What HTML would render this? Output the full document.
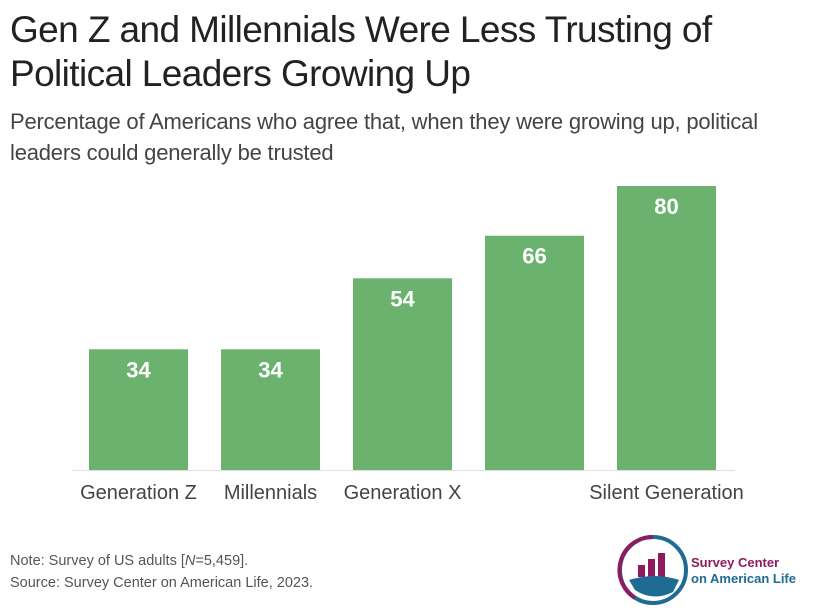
<!DOCTYPE html>
<html><head><meta charset="utf-8"><style>
body{margin:0;width:813px;height:613px;background:#fff;font-family:"Liberation Sans",sans-serif;overflow:hidden;position:relative}
.t{position:absolute;left:10px;top:8px;font-size:37px;line-height:44px;color:#222;letter-spacing:-0.6px}
.s{position:absolute;left:10px;top:106px;font-size:22px;line-height:31px;color:#444;letter-spacing:-0.2px}
.n{position:absolute;left:10px;top:550px;font-size:14.5px;line-height:22px;color:#555}
</style></head><body>
<div class="t">Gen Z and Millennials Were Less Trusting of<br>Political Leaders Growing Up</div>
<div class="s">Percentage of Americans who agree that, when they were growing up, political<br>leaders could generally be trusted</div>
<svg id="c" width="813" height="613" style="position:absolute;left:0;top:0"></svg>
<div class="n">Note: Survey of US adults [<i>N</i>=5,459].<br>Source: Survey Center on American Life, 2023.</div>
<svg width="200" height="80" style="position:absolute;left:615px;top:532px">
<circle cx="38" cy="38" r="33" fill="none" stroke="#1e6b94" stroke-width="4"/>
<path d="M38 5 A33 33 0 0 0 20 66" fill="none" stroke="#8e1b5e" stroke-width="4"/>
<rect x="23" y="33" width="7" height="12" fill="#8e1b5e"/><rect x="33" y="27" width="7" height="18" fill="#8e1b5e"/><rect x="43" y="21" width="7" height="24" fill="#8e1b5e"/>
<path d="M14 48 Q40 40 64 48 L58 60 Q38 70 20 58 Z" fill="#1e6b94"/>
<text x="76" y="35" font-size="13" font-weight="bold" fill="#8e1b5e">Survey Center</text>
<text x="76" y="51" font-size="13" font-weight="bold" fill="#1e6b94">on American Life</text>
</svg>
<script>
const categories=["Generation Z","Millennials","Generation X","","Silent Generation"];
const values=[34,34,54,66,80];
const svg=document.getElementById('c');const ns="http://www.w3.org/2000/svg";
const base=470,scale=3.55,x0=89,step=132,bw=99;
const y=v=>base-v*scale, x=i=>x0+i*step;
const ax=document.createElementNS(ns,'line');


ax.setAttribute('x1',72);ax.setAttribute('x2',735);ax.setAttribute('y1',base+0.5);ax.setAttribute('y2',base+0.5);ax.setAttribute('stroke','#ddd');svg.appendChild(ax);
values.forEach((v,i)=>{
const r=document.createElementNS(ns,'rect');


r.setAttribute('x',x(i));r.setAttribute('y',y(v));r.setAttribute('width',bw);r.setAttribute('height',v*scale);r.setAttribute('fill','#6bb26f');svg.appendChild(r);
const t=document.createElementNS(ns,'text');


t.setAttribute('x',x(i)+bw/2);t.setAttribute('y',y(v)+28);t.setAttribute('text-anchor','middle');t.setAttribute('font-size','22');t.setAttribute('font-weight','bold');t.setAttribute('fill','#fff');t.textContent=v;svg.appendChild(t);
const c=document.createElementNS(ns,'text');


c.setAttribute('x',x(i)+bw/2);c.setAttribute('y',499);c.setAttribute('text-anchor','middle');c.setAttribute('font-size','20');c.setAttribute('fill','#444');c.textContent=categories[i];svg.appendChild(c);
});
</script>
</body></html>
